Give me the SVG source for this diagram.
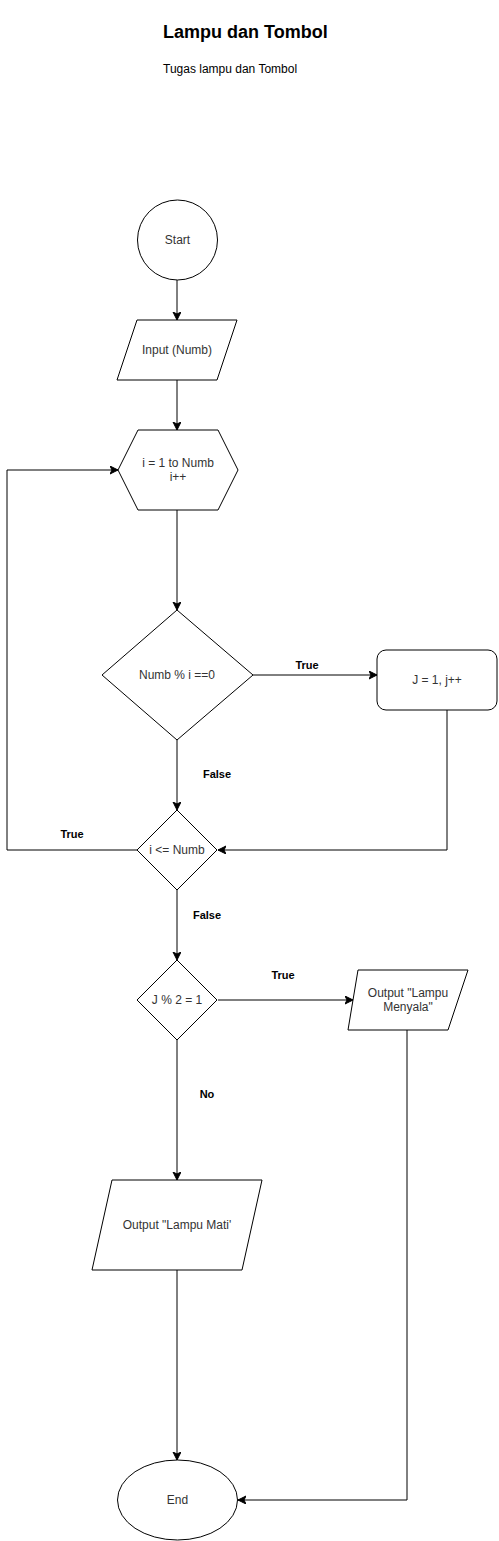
<svg xmlns="http://www.w3.org/2000/svg" width="499" height="1541" viewBox="0 0 499 1541">
<style>
.s{fill:#fff;stroke:#000;stroke-width:1}
.t{font-family:"Liberation Sans",Arial,sans-serif;font-size:12px;fill:#333;text-anchor:middle}
.l{font-family:"Liberation Sans",Arial,sans-serif;font-size:11px;font-weight:bold;fill:#000;text-anchor:middle}
.c{fill:none;stroke:#000;stroke-width:1;marker-end:url(#a)}
</style>
<defs>
<marker id="a" markerWidth="10" markerHeight="10" refX="8" refY="4" orient="auto" markerUnits="userSpaceOnUse">
<path d="M0,0 L8,4 L0,8 L2,4 Z" fill="#000" stroke="#000" stroke-width="1"/>
</marker>
</defs>
<rect width="499" height="1541" fill="#fff"/>
<g id="title">
<text x="163" y="38" font-family="Liberation Sans,Arial,sans-serif" font-size="18" font-weight="bold" fill="#000">Lampu dan Tombol</text>
<text x="163" y="73" font-family="Liberation Sans,Arial,sans-serif" font-size="12" fill="#000">Tugas lampu dan Tombol</text>
</g>
<g id="connectors">
<path class="c" d="M177,280 L177,320"/>
<path class="c" d="M177,380 L177,430"/>
<path class="c" d="M177,510 L177,610"/>
<path class="c" d="M253,675 L377,675"/>
<path class="c" d="M177,740 L177,810"/>
<path class="c" d="M447,710 L447,850 L218,850"/>
<path class="c" d="M138,850 L7,850 L7,470 L118,470"/>
<path class="c" d="M177,890 L177,960"/>
<path class="c" d="M218,1000 L353,1000"/>
<path class="c" d="M177,1040 L177,1180"/>
<path class="c" d="M407,1030 L407,1500 L238,1500"/>
<path class="c" d="M177,1270 L177,1460"/>
<text class="l" x="307" y="669">True</text>
<text class="l" x="217" y="778">False</text>
<text class="l" x="72" y="838">True</text>
<text class="l" x="207" y="919">False</text>
<text class="l" x="283" y="979">True</text>
<text class="l" x="207" y="1098">No</text>
</g>
<g id="start">
<circle class="s" cx="177.5" cy="240" r="40"/>
<text class="t" x="177.5" y="244">Start</text>
</g>
<g id="input">
<polygon class="s" points="137,320 237,320 217,380 117,380"/>
<text class="t" x="177" y="354">Input (Numb)</text>
</g>
<g id="loop">
<polygon class="s" points="118,470 138,430 218,430 238,470 218,510 138,510"/>
<text class="t" x="178" y="467">i = 1 to Numb</text>
<text class="t" x="178" y="481">i++</text>
</g>
<g id="cond1">
<polygon class="s" points="177,610 253,675 177,740 102,675"/>
<text class="t" x="177" y="679">Numb % i ==0</text>
</g>
<g id="jset">
<rect class="s" x="377" y="650" width="120" height="60" rx="9" ry="9"/>
<text class="t" x="437" y="684">J = 1, j++</text>
</g>
<g id="cond2">
<polygon class="s" points="177,810 217,850 177,890 137,850"/>
<text class="t" x="177" y="854">i &lt;= Numb</text>
</g>
<g id="cond3">
<polygon class="s" points="177,960 217,1000 177,1040 137,1000"/>
<text class="t" x="177" y="1004">J % 2 = 1</text>
</g>
<g id="outOn">
<polygon class="s" points="358,970 468,970 448,1030 348,1030"/>
<text class="t" x="408" y="997">Output "Lampu</text>
<text class="t" x="408" y="1011">Menyala"</text>
</g>
<g id="outOff">
<polygon class="s" points="112,1180 262,1180 242,1270 92,1270"/>
<text class="t" x="177" y="1229">Output "Lampu Mati'</text>
</g>
<g id="end">
<ellipse class="s" cx="177.5" cy="1500" rx="60" ry="40"/>
<text class="t" x="177.5" y="1504">End</text>
</g>
</svg>
